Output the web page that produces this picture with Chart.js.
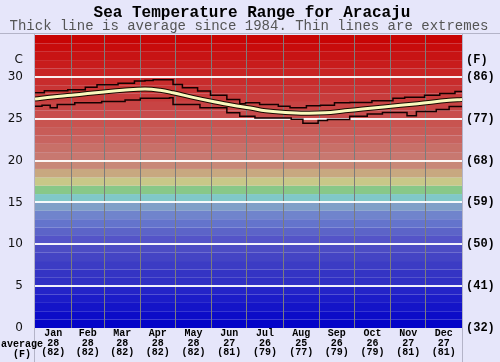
<!DOCTYPE html>
<html>
<head>
<meta charset="utf-8">
<script src="https://cdn.jsdelivr.net/npm/chart.js@4/dist/chart.umd.min.js"></script>
<style>
  html, body { margin:0; padding:0; background:#e6e6fa; }
  #wrap { width:500px; height:362px; }
</style>
</head>
<body>
<div id="wrap"><canvas id="c" width="500" height="362"></canvas></div>
<script>
// ---------- data ----------
const months = ['Jan','Feb','Mar','Apr','May','Jun','Jul','Aug','Sep','Oct','Nov','Dec'];
const monthAvgC = [28,28,28,28,28,27,26,25,26,26,27,27];
const monthAvgF = [82,82,82,82,82,81,79,77,79,79,81,81];
const monthStarts = [0,31,59,90,120,151,181,212,243,273,304,334,365];

const avgDays  = [0,15,31,45,59,75,94,107,118,135,152,169,184,197,214,231,248,265,280,298,327,354,365];
const avgTemps = [27.35,27.6,27.8,28.0,28.2,28.4,28.55,28.4,28.1,27.55,27.05,26.6,26.28,25.95,25.75,25.65,25.7,25.95,26.15,26.4,26.8,27.2,27.3];

const maxDays  = [0,8,28,43,53,71,85,94,101,118,126,139,150,164,175,180,192,208,218,232,244,256,269,288,306,316,333,346,359,365];
const maxTemps = [28.1,28.35,28.45,28.75,29.05,29.25,29.5,29.55,29.65,29.1,28.7,28.3,27.8,27.3,26.8,26.9,26.7,26.5,26.3,26.55,26.6,26.9,26.95,27.15,27.45,27.55,27.8,28.0,28.25,28.3];

const minDays  = [0,6,13,19,34,57,77,90,115,118,141,164,175,188,219,229,242,250,269,284,297,318,326,343,354,365];
const minTemps = [26.5,26.6,26.3,26.7,26.9,27.05,27.25,27.45,27.5,26.7,26.3,25.7,25.3,25.1,24.95,24.45,24.8,24.9,25.3,25.55,25.75,25.35,25.85,26.1,26.45,26.5];

const cTicks = [0,5,10,15,20,25,30];
const fTicks = [32,41,50,59,68,77,86];

// ---------- styles ----------
const bandColors = [
  '#0404c8','#0c0cc8','#1414c8','#1c1cc8','#2424c8',
  '#3030c4','#3434c4','#3c3cc4','#4444c4','#4c4cc4',
  '#5454c8','#5c64c8','#6474cc','#7084cc','#80a0c8',
  '#80c8c8','#88c888','#c8c888','#c8a880','#c88878',
  '#c87870','#c87068','#c86460','#c85c58','#c85450',
  '#c84c4c','#c84444','#c83c3c','#c83434','#c82c2c',
  '#c82424','#c81c1c','#c81414','#c80c0c','#c80404'
];

const pts = (d, t) => d.map((x, i) => ({x: x, y: t[i]}));
const mids = months.map((m, i) => (monthStarts[i] + monthStarts[i+1]) / 2);

const bandsPlugin = {
  id: 'bands',
  beforeDraw(chart) {
    const ctx = chart.ctx, a = chart.chartArea, y = chart.scales.y;
    ctx.save();
    ctx.fillStyle = '#e6e6fa';
    ctx.fillRect(0, 0, chart.width, chart.height);
    for (let i = 0; i < bandColors.length; i++) {
      const top = y.getPixelForValue(i + 1), bot = y.getPixelForValue(i);
      ctx.fillStyle = bandColors[i];
      ctx.fillRect(a.left, top, a.right - a.left, bot - top);
    }
    // frame
    ctx.strokeStyle = '#b4b4c8';
    ctx.lineWidth = 1;
    ctx.beginPath();
    ctx.moveTo(0, a.top - 1.5); ctx.lineTo(chart.width, a.top - 1.5);
    ctx.moveTo(a.left - 0.5, a.top - 1.5); ctx.lineTo(a.left - 0.5, chart.height);
    ctx.moveTo(a.right + 0.5, a.top - 1.5); ctx.lineTo(a.right + 0.5, chart.height);
    ctx.stroke();
    ctx.restore();
  },
  afterDraw(chart) {
    const ctx = chart.ctx;
    ctx.save();
    ctx.textAlign = 'center';
    ctx.textBaseline = 'alphabetic';
    ctx.fillStyle = '#000';
    ctx.font = 'bold 16px "Liberation Mono"';
    ctx.fillText('Sea Temperature Range for Aracaju', 252, 17);
    ctx.fillStyle = '#555';
    ctx.font = '14px "Liberation Mono"';
    ctx.fillText('Thick line is average since 1984. Thin lines are extremes', 249, 30);
    ctx.fillStyle = '#000';
    ctx.font = 'bold 10px "Liberation Mono"';
    ctx.fillText('average', 22, 347);
    ctx.fillText('(F)', 22, 357);
    ctx.restore();
  }
};

new Chart(document.getElementById('c'), {
  type: 'line',
  data: {
    datasets: [
      { data: pts(avgDays, avgTemps), order: 0, borderColor: '#fafabe', borderWidth: 3, tension: 0.4, pointRadius: 0, fill: false },
      { data: pts(avgDays, avgTemps), order: 1, borderColor: '#1a0a00', borderWidth: 5, tension: 0.4, pointRadius: 0, fill: false },
      { data: pts(maxDays, maxTemps), order: 2, borderColor: '#140000', borderWidth: 1.5, stepped: 'before', pointRadius: 0, fill: false },
      { data: pts(minDays, minTemps), order: 3, borderColor: '#140000', borderWidth: 1.5, stepped: 'before', pointRadius: 0, fill: false }
    ]
  },
  plugins: [bandsPlugin],
  options: {
    responsive: false,
    animation: false,
    devicePixelRatio: 1,
    layout: { padding: { top: 35, left: 0, right: 0, bottom: 0 } },
    plugins: { legend: { display: false }, tooltip: { enabled: false }, title: { display: false } },
    scales: {
      x: {
        type: 'linear', min: 0, max: 365, position: 'bottom',
        afterBuildTicks: s => { s.ticks = monthStarts.slice(1, 12).map(v => ({value: v})); },
        afterFit: s => { s.height = 0; },
        ticks: { display: false },
        grid: { color: '#7c7c7c', lineWidth: 1, drawTicks: false },
        border: { display: false }
      },
      x2: {
        type: 'linear', min: 0, max: 365, position: 'bottom',
        afterBuildTicks: s => { s.ticks = mids.map(v => ({value: v})); },
        afterFit: s => { s.height = 34; },
        grid: { display: false, drawTicks: false },
        border: { display: false },
        ticks: {
          autoSkip: false, maxRotation: 0, padding: 1, color: '#000',
          font: { family: 'Liberation Mono', size: 10, weight: 'bold', lineHeight: 0.95 },
          callback: (v, i) => [months[i], String(monthAvgC[i]), '(' + monthAvgF[i] + ')']
        }
      },
      y: {
        type: 'linear', min: 0, max: 35, position: 'left',
        afterBuildTicks: s => { s.ticks = cTicks.concat([32]).map(v => ({value: v})); },
        afterFit: s => { s.width = 35; },
        grid: {
          drawTicks: false, lineWidth: 2,
          color: c => (c.tick && c.tick.value > 0 && c.tick.value <= 30) ? 'rgba(255,255,255,0.92)' : 'rgba(0,0,0,0)'
        },
        border: { display: false },
        ticks: {
          padding: 12, color: '#111',
          font: { family: 'DejaVu Sans', size: 12 },
          callback: v => v === 32 ? 'C' : String(v)
        }
      },
      yF: {
        type: 'linear', min: 32, max: 95, position: 'right',
        afterBuildTicks: s => { s.ticks = fTicks.concat([89.6]).map(v => ({value: v})); },
        afterFit: s => { s.width = 38; },
        grid: { display: false, drawTicks: false },
        border: { display: false },
        ticks: {
          padding: 4, color: '#000',
          font: { family: 'Liberation Mono', size: 12, weight: 'bold' },
          callback: v => v === 89.6 ? '(F)' : '(' + v + ')'
        }
      }
    }
  }
});
</script>
</body>
</html>
